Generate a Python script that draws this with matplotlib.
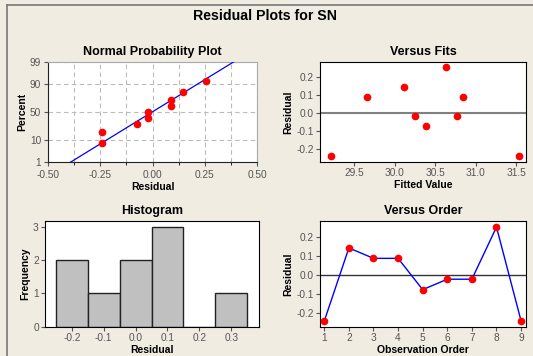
import matplotlib
matplotlib.use("Agg")
import matplotlib.pyplot as plt
import numpy as np
from statistics import NormalDist
from matplotlib.lines import Line2D

# ---- data ----
observation_order = [1, 2, 3, 4, 5, 6, 7, 8, 9]
residuals = [-0.24, 0.145, 0.09, 0.09, -0.075, -0.02, -0.02, 0.255, -0.24]
fitted_values = [29.22, 30.12, 29.66, 30.84, 30.39, 30.25, 30.77, 30.63, 31.53]
hist_bin_edges = [-0.25, -0.15, -0.05, 0.05, 0.15, 0.25, 0.35]
npp_tick_percents = [1, 10, 50, 90, 99]

BG = "#F0ECE2"
TICKC = "#555555"
plt.rcParams['font.family'] = ['Liberation Sans', 'DejaVu Sans']

W, H = 533, 356
fig = plt.figure(figsize=(W / 100, H / 100), dpi=100, facecolor=BG)

def rect(l, r, t, b):
    return [l / W, 1 - b / H, (r - l) / W, (b - t) / H]

fig.text(265 / W, 1 - 16 / H, "Residual Plots for SN", ha="center", va="center",
         fontsize=10.2, fontweight="bold")
# frame lines at left/top
fig.add_artist(Line2D([7 / W, 7 / W], [0, 1 - 5 / H], color="#777777", lw=1.2))
fig.add_artist(Line2D([7 / W, 1], [1 - 5 / H, 1 - 5 / H], color="#777777", lw=1.2))

def style(ax, title, xlabel, ylabel):
    ax.set_title(title, fontsize=9, fontweight="bold", pad=5)
    ax.set_xlabel(xlabel, fontsize=7.5, fontweight="bold", labelpad=1)
    ax.set_ylabel(ylabel, fontsize=7.5, fontweight="bold", labelpad=2)
    ax.tick_params(labelsize=7.3, colors=TICKC, length=3, width=0.8, pad=1.5)
    ax.tick_params(axis="both", labelcolor=TICKC)

n = len(residuals)
nd = NormalDist()
# ---- Normal probability plot ----
ax1 = fig.add_axes(rect(48, 257, 62, 162))
srt = np.sort(residuals)
probs = [(i - 0.3) / (n + 0.4) for i in range(1, n + 1)]
zs = [nd.inv_cdf(p) for p in probs]
mu = float(np.mean(residuals))
sd = float(np.std(residuals, ddof=1))
zline = np.linspace(-3, 3, 50)
ax1.plot(mu + sd * zline, zline, color="blue", lw=0.9, zorder=3)
ax1.plot(srt, zs, "o", color="red", ms=4.5, zorder=4)
ax1.set_xlim(-0.5, 0.5)
zlo, zhi = nd.inv_cdf(0.01), nd.inv_cdf(0.99)
ax1.set_ylim(zlo, zhi)
ax1.set_yticks([nd.inv_cdf(p / 100) for p in npp_tick_percents])
ax1.set_yticklabels([str(p) for p in npp_tick_percents])
ax1.set_xticks([-0.5, -0.25, 0.0, 0.25, 0.5])
ax1.set_xticklabels(["-0.50", "-0.25", "0.00", "0.25", "0.50"])
ax1.set_xticks(np.arange(-0.5, 0.51, 0.125), minor=True)
ax1.grid(True, which="both", axis="x", color="#BBBBBB", ls=(0, (4, 3)), lw=0.8)
ax1.grid(True, which="major", axis="y", color="#BBBBBB", ls=(0, (4, 3)), lw=0.8)
for s in ax1.spines.values():
    s.set_color("#AAAAAA")
ax1.spines["left"].set_color("#222222")
ax1.spines["bottom"].set_color("#222222")
style(ax1, "Normal Probability Plot", "Residual", "Percent")
ax1.tick_params(which="minor", length=2)
ax1.tick_params(axis="x", which="both", pad=3)
ax1.tick_params(axis="y", which="both", pad=2)

# ---- Versus fits ----
ax2 = fig.add_axes(rect(320, 526, 62, 162))
ax2.axhline(0, color="#808080", lw=1.5, zorder=1)
ax2.plot(fitted_values, residuals, "o", color="red", ms=4.5, zorder=3)
ax2.set_xlim(29.08, 31.62)
ax2.set_ylim(-0.272, 0.281)
ax2.set_xticks([29.5, 30.0, 30.5, 31.0, 31.5])
ax2.set_xticklabels(["29.5", "30.0", "30.5", "31.0", "31.5"])
ax2.set_yticks([-0.2, -0.1, 0.0, 0.1, 0.2])
ax2.set_yticklabels(["-0.2", "-0.1", "0.0", "0.1", "0.2"])
style(ax2, "Versus Fits", "Fitted Value", "Residual")

# ---- Histogram ----
ax3 = fig.add_axes(rect(45, 259, 221, 327))
ax3.hist(residuals, bins=hist_bin_edges, color="#C0C0C0", edgecolor="#222222", lw=1)
ax3.set_xlim(-0.284, 0.387)
ax3.set_ylim(-0.01, 3.18)
ax3.set_xticks([-0.2, -0.1, 0.0, 0.1, 0.2, 0.3])
ax3.set_xticklabels(["-0.2", "-0.1", "0.0", "0.1", "0.2", "0.3"])
ax3.set_yticks([0, 1, 2, 3])
style(ax3, "Histogram", "Residual", "Frequency")

# ---- Versus order ----
ax4 = fig.add_axes(rect(320, 526, 221, 327))
ax4.axhline(0, color="#333333", lw=1, zorder=1)
ax4.plot(observation_order, residuals, "-", color="blue", lw=1, zorder=2)
ax4.plot(observation_order, residuals, "o", color="red", ms=4.5, zorder=3)
ax4.set_xlim(0.825, 9.2)
ax4.set_ylim(-0.272, 0.287)
ax4.set_xticks(observation_order)
ax4.set_yticks([-0.2, -0.1, 0.0, 0.1, 0.2])
ax4.set_yticklabels(["-0.2", "-0.1", "0.0", "0.1", "0.2"])
style(ax4, "Versus Order", "Observation Order", "Residual")

fig.savefig("out.png", dpi=100, facecolor=BG)
